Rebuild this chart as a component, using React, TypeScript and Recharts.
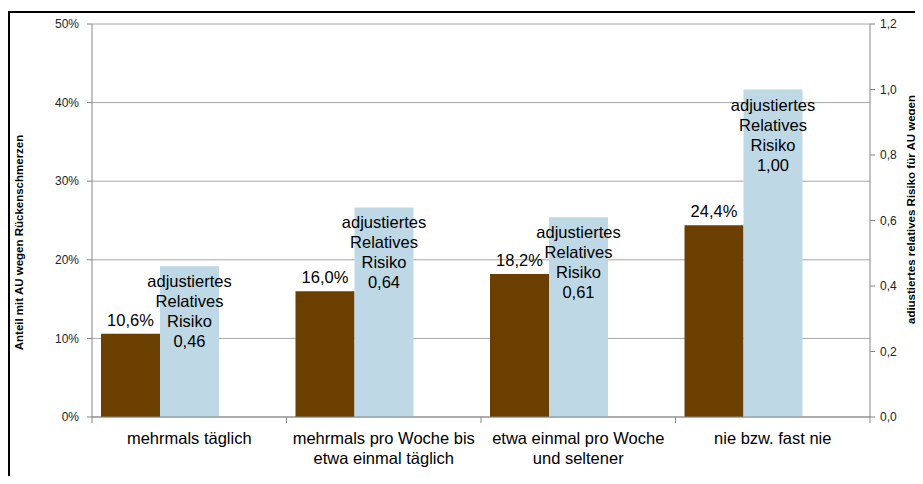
import { BarChart, Bar, XAxis, YAxis, CartesianGrid, LabelList } from "recharts";

const categories = [
  "mehrmals täglich",
  "mehrmals pro Woche bis\netwa einmal täglich",
  "etwa einmal pro Woche\nund seltener",
  "nie bzw. fast nie",
];
const anteil = [10.6, 16.0, 18.2, 24.4];
const risiko = [0.46, 0.64, 0.61, 1.0];
const spacer = [0, 0, 0, 0];
const leftTicks = [0, 10, 20, 30, 40, 50];
const rightTicks = [0, 0.2, 0.4, 0.6, 0.8, 1.0, 1.2];
const riskLabel = ["adjustiertes", "Relatives", "Risiko"];
const leftTitle = "Anteil mit AU wegen Rückenschmerzen";
const rightTitle = ["adjustiertes relatives Risiko für AU wegen", "Rückenschmerzen"];

const data = categories.map((cat, i) => ({
  cat,
  anteil: anteil[i],
  risiko: risiko[i],
  spacer: spacer[i],
}));

const FONT = '"Liberation Sans", Arial, sans-serif';
const BROWN = "#6B3F00";
const BLUE = "#BFD8E5";
const AXIS = "#868686";
const PLOT_W = 778;

const comma = (v: number, d: number) => v.toFixed(d).replace(".", ",");

function CatTick(props: any) {
  const { x, y, payload, index } = props;
  const half = payload?.offset || PLOT_W / categories.length / 2;
  const lines = String(payload.value).split("\n");
  return (
    <g>
      <line x1={x - half} x2={x - half} y1={y} y2={y + 6} stroke={AXIS} />
      {index === categories.length - 1 && (
        <line x1={x + half} x2={x + half} y1={y} y2={y + 6} stroke={AXIS} />
      )}
      {lines.map((l, i) => (
        <text key={i} x={x} y={y + 27 + i * 20} textAnchor="middle" fontSize={16.5} fill="#000" fontFamily={FONT}>
          {l}
        </text>
      ))}
    </g>
  );
}

function LeftTitle(props: any) {
  const vb = props.viewBox || { x: 0, y: 11, width: 82, height: 393 };
  const cx = vb.x + 9;
  const cy = vb.y + vb.height / 2 + 22;
  return (
    <text x={cx} y={cy} transform={`rotate(-90 ${cx} ${cy})`} textAnchor="middle" dominantBaseline="central"
      fontSize={11.5} fontWeight="bold" fill="#000" fontFamily={FONT}>
      {leftTitle}
    </text>
  );
}

function RightTitle(props: any) {
  const vb = props.viewBox || { x: 860, y: 11, width: 60, height: 393 };
  const cy = vb.y + vb.height / 2 - 11;
  return (
    <g>
      {rightTitle.map((t, i) => {
        const cx = vb.x + 41 + i * 13;
        return (
          <text key={i} x={cx} y={cy} transform={`rotate(-90 ${cx} ${cy})`} textAnchor="middle" dominantBaseline="central"
            fontSize={11.5} fontWeight="bold" fill="#000" fontFamily={FONT}>
            {t}
          </text>
        );
      })}
    </g>
  );
}

function BrownLabel(props: any) {
  const { x, y, width, value } = props;
  return (
    <text x={x + width / 2} y={y - 8} textAnchor="middle" fontSize={16.5} fill="#000" fontFamily={FONT}>
      {comma(Number(value), 1)}%
    </text>
  );
}

function BlueLabel(props: any) {
  const { x, y, width, value } = props;
  const lines = [...riskLabel, comma(Number(value), 2)];
  return (
    <g>
      {lines.map((l, i) => (
        <text key={i} x={x + width / 2} y={y + 21 + i * 20} textAnchor="middle" fontSize={16.5} fill="#000" fontFamily={FONT}>
          {l}
        </text>
      ))}
    </g>
  );
}

export default function App() {
  return (
    <div style={{ width: 915, height: 476, marginBottom: -8, overflow: "hidden" }}>
      <div style={{ marginTop: 3, border: "2px solid #000", width: 924, height: 500, background: "#fff" }}>
        <BarChart
          width={920}
          height={480}
          data={data}
          margin={{ top: 11, right: 0, left: 0, bottom: 16 }}
          barCategoryGap={9}
          barGap={0}
        >
          <CartesianGrid yAxisId="left" vertical={false} stroke="#A6A6A6" />
          <XAxis
            dataKey="cat"
            interval={0}
            height={60}
            tickLine={false}
            tickSize={0}
            tickMargin={0}
            axisLine={{ stroke: AXIS }}
            tick={<CatTick />}
          />
          <YAxis
            yAxisId="left"
            width={82}
            domain={[0, 50]}
            ticks={leftTicks}
            tickFormatter={(v: number) => `${v}%`}
            tickSize={5}
            tickMargin={8}
            axisLine={{ stroke: AXIS }}
            tickLine={{ stroke: AXIS }}
            tick={{ fontSize: 12, fill: "#222", fontFamily: FONT }}
            label={<LeftTitle />}
          />
          <YAxis
            yAxisId="right"
            orientation="right"
            width={60}
            domain={[0, 1.2]}
            ticks={rightTicks}
            tickFormatter={(v: number) => comma(v, 1)}
            tickSize={5}
            tickMargin={5}
            axisLine={{ stroke: AXIS }}
            tickLine={{ stroke: AXIS }}
            tick={{ fontSize: 12, fill: "#222", fontFamily: FONT }}
            label={<RightTitle />}
          />
          <Bar yAxisId="left" dataKey="anteil" fill={BROWN} isAnimationActive={false}>
            <LabelList dataKey="anteil" content={<BrownLabel />} />
          </Bar>
          <Bar yAxisId="right" dataKey="risiko" fill={BLUE} isAnimationActive={false}>
            <LabelList dataKey="risiko" content={<BlueLabel />} />
          </Bar>
          <Bar yAxisId="left" dataKey="spacer" fill="none" isAnimationActive={false} />
        </BarChart>
      </div>
    </div>
  );
}
